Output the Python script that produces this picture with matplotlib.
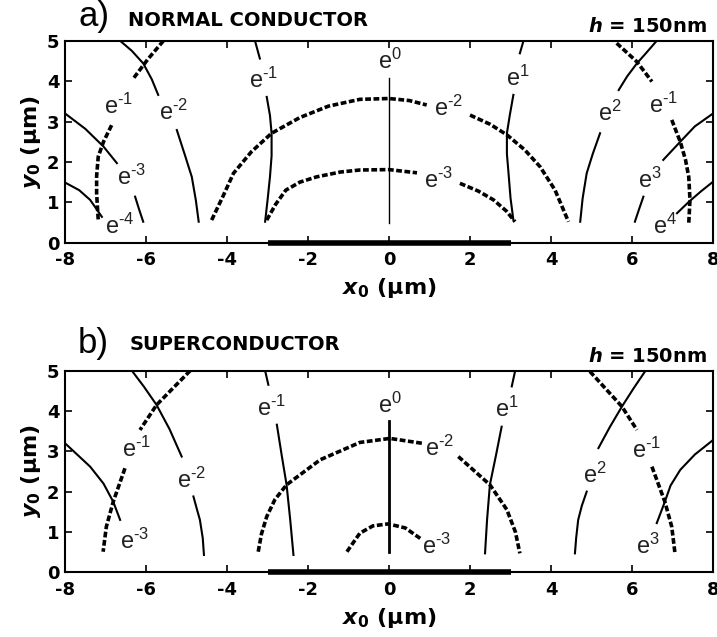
import matplotlib
matplotlib.use('Agg')
import matplotlib.pyplot as plt

plt.rcParams['font.family'] = ['Liberation Sans', 'DejaVu Sans']
plt.rcParams['mathtext.fontset'] = 'custom'
plt.rcParams['mathtext.rm'] = 'Liberation Sans'
plt.rcParams['mathtext.it'] = 'Liberation Sans:italic'
plt.rcParams['mathtext.bf'] = 'DejaVu Sans:bold'
plt.rcParams['mathtext.bfit'] = 'DejaVu Sans:italic:bold'

BOLD = 'DejaVu Sans'  # Wide Bold Face for Ticks and Headings

############
### Data ###
############

x_ticks = [-8, -6, -4, -2, 0, 2, 4, 6, 8]
y_ticks = [0, 1, 2, 3, 4, 5]
strip_x = [-3, 3]  # Conductor Strip Edges (um)

# Panel a) Normal Conductor - Solid Contours (Segments Broken at Labels)
a_solid = [
    [(-6.64, 5.0), (-6.35, 4.75), (-6.07, 4.44), (-5.86, 4.05), (-5.70, 3.66)],
    [(-5.24, 2.79), (-5.05, 2.20), (-4.87, 1.63), (-4.77, 1.05), (-4.70, 0.52)],
    [(-8.0, 3.2), (-7.5, 2.82), (-7.05, 2.38), (-6.72, 1.97)],
    [(-6.27, 1.14), (-6.17, 0.82), (-6.07, 0.52)],
    [(-8.0, 1.49), (-7.65, 1.30), (-7.38, 1.06), (-7.09, 0.64)],
    [(-3.31, 5.0), (-3.19, 4.56)],
    [(-3.02, 3.61), (-2.94, 3.15), (-2.90, 2.71), (-2.90, 2.15), (-2.94, 1.63), (-3.0, 1.05), (-3.06, 0.52)],
    [(3.32, 5.0), (3.23, 4.69)],
    [(3.07, 3.66), (2.98, 3.15), (2.91, 2.71), (2.91, 2.20), (2.95, 1.72), (3.0, 1.10), (3.07, 0.56)],
    [(6.61, 5.0), (6.35, 4.70), (6.12, 4.44), (5.88, 4.12), (5.67, 3.78)],
    [(5.21, 2.71), (5.03, 2.20), (4.88, 1.72), (4.78, 1.10), (4.72, 0.52)],
    [(8.0, 3.2), (7.55, 2.88), (7.19, 2.50), (6.77, 2.05)],
    [(6.28, 1.14), (6.17, 0.82), (6.07, 0.52)],
    [(8.0, 1.51), (7.70, 1.27), (7.40, 1.01), (7.11, 0.73)],
]

a_dashed = [
    [(-5.57, 5.0), (-5.95, 4.55), (-6.31, 4.07)],
    [(-6.85, 2.91), (-7.05, 2.50), (-7.18, 2.13), (-7.22, 1.65), (-7.22, 1.22), (-7.18, 0.56)],
    [(-4.38, 0.56), (-4.10, 1.15), (-3.84, 1.72), (-3.40, 2.25), (-2.90, 2.71), (-2.20, 3.10),
     (-1.50, 3.38), (-0.72, 3.55), (0.0, 3.57), (0.50, 3.52), (0.93, 3.41)],
    [(2.0, 3.16), (2.50, 2.93), (2.91, 2.67), (3.35, 2.30), (3.73, 1.88), (4.10, 1.30), (4.43, 0.52)],
    [(-3.02, 0.56), (-2.80, 0.95), (-2.55, 1.30), (-2.20, 1.50), (-1.79, 1.63), (-1.20, 1.75),
     (-0.72, 1.80), (0.0, 1.81), (0.69, 1.73)],
    [(1.75, 1.47), (2.20, 1.28), (2.58, 1.06), (2.90, 0.78), (3.11, 0.52)],
    [(5.62, 4.94), (6.12, 4.48), (6.49, 3.99)],
    [(6.98, 3.04), (7.19, 2.50), (7.32, 2.05), (7.40, 1.63), (7.43, 1.06), (7.40, 0.48)],
]

a_centre = [(0.0, 0.5), (0.0, 4.07)]

a_labels = ['-1', '-2', '-3', '-4', '-1', '0', '-2', '-3', '1', '2', '-1', '3', '4']
a_label_xy = [(-6.68, 3.37), (-5.33, 3.23), (-6.35, 1.63), (-6.64, 0.40), (-3.10, 4.03),
              (0.02, 4.48), (1.47, 3.33), (1.22, 1.55), (3.19, 4.07), (5.46, 3.20),
              (6.77, 3.41), (6.44, 1.55), (6.81, 0.40)]

# Panel b) Superconductor
b_solid = [
    [(-6.35, 5.0), (-6.05, 4.60), (-5.74, 4.15), (-5.42, 3.55), (-5.12, 2.87)],
    [(-4.83, 1.88), (-4.74, 1.55), (-4.67, 1.30), (-4.60, 0.85), (-4.57, 0.43)],
    [(-8.0, 3.2), (-7.38, 2.62), (-7.05, 2.20), (-6.81, 1.75), (-6.64, 1.30)],
    [(-3.06, 5.0), (-2.98, 4.65)],
    [(-2.77, 3.66), (-2.65, 2.90), (-2.53, 2.17), (-2.44, 1.30), (-2.36, 0.43)],
    [(3.11, 4.98), (3.03, 4.61)],
    [(2.78, 3.61), (2.64, 2.90), (2.49, 2.17), (2.42, 1.30), (2.37, 0.47)],
    [(6.32, 4.98), (6.05, 4.58), (5.75, 4.11), (5.45, 3.60), (5.17, 3.08)],
    [(4.88, 2.0), (4.76, 1.65), (4.67, 1.30), (4.62, 0.85), (4.59, 0.47)],
    [(8.0, 3.28), (7.55, 2.92), (7.19, 2.54), (6.95, 2.15), (6.81, 1.75), (6.61, 1.22)],
]

b_dashed = [
    [(-4.91, 5.0), (-5.35, 4.55), (-5.74, 4.15), (-6.15, 3.53)],
    [(-6.52, 2.58), (-6.81, 1.75), (-6.98, 1.13), (-7.06, 0.51)],
    [(-3.23, 0.51), (-3.15, 0.95), (-3.02, 1.38), (-2.82, 1.80), (-2.53, 2.17), (-1.70, 2.79),
     (-0.72, 3.22), (0.02, 3.32), (0.81, 3.20)],
    [(1.71, 2.87), (2.49, 2.17), (2.91, 1.55), (3.12, 1.0), (3.23, 0.47)],
    [(-1.04, 0.51), (-0.72, 0.97), (-0.40, 1.15), (-0.02, 1.20), (0.40, 1.10), (0.77, 0.84)],
    [(4.96, 4.98), (5.35, 4.55), (5.75, 4.11), (6.12, 3.53)],
    [(6.49, 2.62), (6.81, 1.75), (6.98, 1.13), (7.06, 0.47)],
]

b_centre = [(0.0, 0.5), (0.0, 3.74)]

b_labels = ['-1', '-2', '-3', '-1', '0', '-2', '-3', '1', '2', '-1', '3']
b_label_xy = [(-6.23, 3.05), (-4.87, 2.29), (-6.27, 0.76), (-2.90, 4.07), (0.02, 4.15),
              (1.26, 3.08), (1.18, 0.64), (2.91, 4.03), (5.09, 2.41), (6.36, 3.03),
              (6.40, 0.64)]

###############
### Drawing ###
###############

def draw_panel(ax, solid, dashed, centre, centre_lw, labels, label_xy) :
    for seg in solid :
        xs, ys = zip(*seg)
        ax.plot(xs, ys, color = 'black', lw = 1.5)
    for seg in dashed :
        xs, ys = zip(*seg)
        ax.plot(xs, ys, color = 'black', lw = 2.6, linestyle = (0, (1.6, 0.7)))
    xs, ys = zip(*centre)
    ax.plot(xs, ys, color = 'black', lw = centre_lw)

    for lab, (x, y) in zip(labels, label_xy) :
        ax.text(x, y, r'e$^{\text{%s}}$' % lab, ha = 'center', va = 'center',
                fontsize = 17, color = '#222222')

    # Conductor Strip on the Substrate
    ax.plot(strip_x, [0, 0], color = 'black', lw = 4, solid_capstyle = 'butt',
            clip_on = False, zorder = 5)

    ax.set_xlim(-8, 8)
    ax.set_ylim(0, 5)
    ax.set_xticks(x_ticks, [str(t) for t in x_ticks], fontweight = 'bold', fontsize = 13, family = BOLD)
    ax.set_yticks(y_ticks, [str(t) for t in y_ticks], fontweight = 'bold', fontsize = 13, family = BOLD)
    ax.tick_params(direction = 'in', top = True, right = True, length = 5, width = 1.2)
    ax.tick_params(axis = 'x', pad = 6)
    ax.tick_params(axis = 'y', pad = 4)
    for sp in ax.spines.values() :
        sp.set_linewidth(1.5)

    ax.set_xlabel(r'$\mathbfit{x}_\mathbf{0}$ (µm)', fontweight = 'bold', fontsize = 16,
                  family = BOLD, labelpad = 5)
    ax.set_ylabel(r'$\mathbfit{y}_\mathbf{0}$ (µm)', fontweight = 'bold', fontsize = 16,
                  family = BOLD, labelpad = 3)


fig = plt.figure(figsize = (7.17, 6.37), dpi = 100)

ax_a = fig.add_axes([0.0907, 0.619, 0.9038, 0.317])
ax_b = fig.add_axes([0.0907, 0.1016, 0.9038, 0.3165])

draw_panel(ax_a, a_solid, a_dashed, a_centre, 1.0, a_labels, a_label_xy)
draw_panel(ax_b, b_solid, b_dashed, b_centre, 2.0, b_labels, b_label_xy)

# Panel Titles
fig.text(0.1088, 0.959, 'a)', fontsize = 25, va = 'baseline')
fig.text(0.1785, 0.959, 'NORMAL CONDUCTOR', fontsize = 14, fontweight = 'bold',
         family = BOLD, va = 'baseline')
fig.text(0.986, 0.950, r'$\mathbfit{h}$ = 150nm', fontsize = 14, fontweight = 'bold',
         family = BOLD, ha = 'right', va = 'baseline')

fig.text(0.1088, 0.4458, 'b)', fontsize = 25, va = 'baseline')
fig.text(0.181, 0.4505, 'SUPERCONDUCTOR', fontsize = 14, fontweight = 'bold',
         family = BOLD, va = 'baseline')
fig.text(0.986, 0.4317, r'$\mathbfit{h}$ = 150nm', fontsize = 14, fontweight = 'bold',
         family = BOLD, ha = 'right', va = 'baseline')

fig.savefig('out.png', dpi = 100)
